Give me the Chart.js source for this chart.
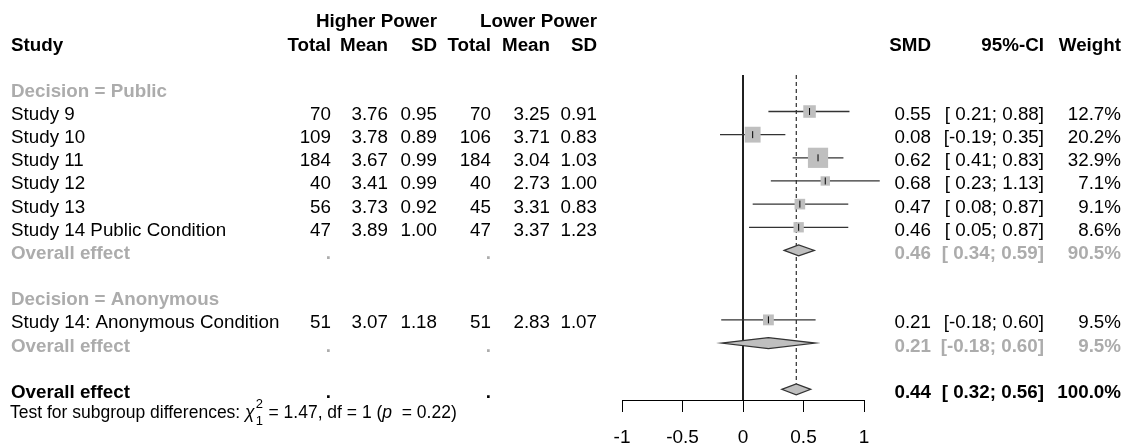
<!DOCTYPE html>
<html>
<head>
<meta charset="utf-8">
<title>Forest plot</title>
<script src="https://cdn.jsdelivr.net/npm/chart.js@4.4.1/dist/chart.umd.min.js"></script>
<style>
  html, body { margin: 0; padding: 0; background: #fff; }
  canvas { display: block; }
</style>
</head>
<body>
<canvas id="forest" width="1128" height="445"></canvas>
<script>
(() => {
  'use strict'

  // study level data
  const studies = ['Study 9', 'Study 10', 'Study 11', 'Study 12', 'Study 13', 'Study 14 Public Condition', 'Study 14: Anonymous Condition']
  const hpTotal = [70, 109, 184, 40, 56, 47, 51]
  const hpMean = [3.76, 3.78, 3.67, 3.41, 3.73, 3.89, 3.07]
  const hpSD = [0.95, 0.89, 0.99, 0.99, 0.92, 1.00, 1.18]
  const lpTotal = [70, 106, 184, 40, 45, 47, 51]
  const lpMean = [3.25, 3.71, 3.04, 2.73, 3.31, 3.37, 2.83]
  const lpSD = [0.91, 0.83, 1.03, 1.00, 0.83, 1.23, 1.07]
  const smd = [0.55, 0.08, 0.62, 0.68, 0.47, 0.46, 0.21]
  const ciLow = [0.21, -0.19, 0.41, 0.23, 0.08, 0.05, -0.18]
  const ciHigh = [0.88, 0.35, 0.83, 1.13, 0.87, 0.87, 0.60]
  const weight = [12.7, 20.2, 32.9, 7.1, 9.1, 8.6, 9.5]

  // subgroups and pooled estimate
  const groups = ['Decision = Public', 'Decision = Anonymous']
  const groupEst = [0.46, 0.21]
  const groupLow = [0.34, -0.18]
  const groupHigh = [0.59, 0.60]
  const groupWeight = [90.5, 9.5]
  const overall = { est: 0.44, low: 0.32, high: 0.56, weight: 100.0 }
  const test = { chi2: '1.47', df: '1', p: '0.22' }

  const xTicks = [-1, -0.5, 0, 0.5, 1]

  // layout: which row every line of the table sits on
  const groupRows = [0, 9]
  const studyRows = [1, 2, 3, 4, 5, 6, 10]
  const subgroupRows = [7, 11]
  const overallRow = 13
  const yTop = -0.577
  const yBottom = 13.46

  const FONT = '"Liberation Sans", Arial, sans-serif'
  const SIZE = 18.8
  const GREY = '#acacac'
  const BOX = '#bfbfbf'
  const col = { study: 11, hpTotal: 331, hpMean: 388, hpSD: 437, lpTotal: 491, lpMean: 550, lpSD: 597, smd: 931, ci: 1044, weight: 1121 }

  const f2 = v => v.toFixed(2)
  const ciText = (lo, hi) => '[' + (lo < 0 ? '' : ' ') + f2(lo) + '; ' + f2(hi) + ']'
  const pct = w => w.toFixed(1) + '%'

  function put (ctx, s, px, py, o = {}) {
    ctx.font = (o.italic ? 'italic ' : '') + (o.bold ? 'bold ' : '') + (o.size || SIZE) + 'px ' + FONT
    ctx.fillStyle = o.color || '#000'
    ctx.textAlign = o.align || 'right'
    ctx.textBaseline = 'alphabetic'
    ctx.fillText(s, px, py)
    return ctx.measureText(s).width
  }

  const forestTable = {
    id: 'forestTable',
    afterDatasetsDraw (chart) {
      const { ctx, scales: { x, y } } = chart
      const base = r => y.getPixelForValue(r) + 8.5

      // diamonds for pooled estimates
      const diamond = (est, lo, hi, r) => {
        const cy = y.getPixelForValue(r)
        const h = 5.5
        ctx.beginPath()
        ctx.moveTo(x.getPixelForValue(lo), cy)
        ctx.lineTo(x.getPixelForValue(est), cy - h)
        ctx.lineTo(x.getPixelForValue(hi), cy)
        ctx.lineTo(x.getPixelForValue(est), cy + h)
        ctx.closePath()
        ctx.fillStyle = BOX
        ctx.fill()
        ctx.strokeStyle = '#333'
        ctx.lineWidth = 1.2
        ctx.stroke()
      }
      ctx.save()
      groupEst.forEach((e, i) => diamond(e, groupLow[i], groupHigh[i], subgroupRows[i]))
      diamond(overall.est, overall.low, overall.high, overallRow)

      // column headers
      put(ctx, 'Higher Power', col.hpSD, base(-3), { bold: true })
      put(ctx, 'Lower Power', col.lpSD, base(-3), { bold: true })
      const hy = base(-2)
      put(ctx, 'Study', col.study, hy, { bold: true, align: 'left' })
      put(ctx, 'Total', col.hpTotal, hy, { bold: true })
      put(ctx, 'Mean', col.hpMean, hy, { bold: true })
      put(ctx, 'SD', col.hpSD, hy, { bold: true })
      put(ctx, 'Total', col.lpTotal, hy, { bold: true })
      put(ctx, 'Mean', col.lpMean, hy, { bold: true })
      put(ctx, 'SD', col.lpSD, hy, { bold: true })
      put(ctx, 'SMD', col.smd, hy, { bold: true })
      put(ctx, '95%-CI', col.ci, hy, { bold: true })
      put(ctx, 'Weight', col.weight, hy, { bold: true })

      // subgroup headings
      groups.forEach((g, i) => put(ctx, g, col.study, base(groupRows[i]), { bold: true, color: GREY, align: 'left' }))

      // study rows
      studies.forEach((s, i) => {
        const by = base(studyRows[i])
        put(ctx, s, col.study, by, { align: 'left' })
        put(ctx, String(hpTotal[i]), col.hpTotal, by)
        put(ctx, f2(hpMean[i]), col.hpMean, by)
        put(ctx, f2(hpSD[i]), col.hpSD, by)
        put(ctx, String(lpTotal[i]), col.lpTotal, by)
        put(ctx, f2(lpMean[i]), col.lpMean, by)
        put(ctx, f2(lpSD[i]), col.lpSD, by)
        put(ctx, f2(smd[i]), col.smd, by)
        put(ctx, ciText(ciLow[i], ciHigh[i]), col.ci, by)
        put(ctx, pct(weight[i]), col.weight, by)
      })

      // subgroup pooled rows
      groupEst.forEach((e, i) => {
        const by = base(subgroupRows[i])
        const o = { bold: true, color: GREY }
        put(ctx, 'Overall effect', col.study, by, { ...o, align: 'left' })
        put(ctx, '.', col.hpTotal, by, o)
        put(ctx, '.', col.lpTotal, by, o)
        put(ctx, f2(e), col.smd, by, o)
        put(ctx, ciText(groupLow[i], groupHigh[i]), col.ci, by, o)
        put(ctx, pct(groupWeight[i]), col.weight, by, o)
      })

      // overall row
      const oy = base(overallRow)
      put(ctx, 'Overall effect', col.study, oy, { bold: true, align: 'left' })
      put(ctx, '.', col.hpTotal, oy, { bold: true })
      put(ctx, '.', col.lpTotal, oy, { bold: true })
      put(ctx, f2(overall.est), col.smd, oy, { bold: true })
      put(ctx, ciText(overall.low, overall.high), col.ci, oy, { bold: true })
      put(ctx, pct(overall.weight), col.weight, oy, { bold: true })

      // test for subgroup differences
      const ty = oy + 20
      const ts = 17.5
      let tx = col.study - 1
      tx += put(ctx, 'Test for subgroup differences: ', tx, ty, { size: ts, align: 'left' })
      const cw = put(ctx, '\u03c7', tx, ty, { size: ts, align: 'left', italic: true })
      put(ctx, '2', tx + cw + 1, ty - 10, { size: 13, align: 'left' })
      put(ctx, test.df, tx + cw + 1, ty + 7, { size: 13, align: 'left' })
      tx += cw + 9
      tx += put(ctx, ' = ' + test.chi2 + ', df = ' + test.df + ' (', tx, ty, { size: ts, align: 'left' })
      tx += put(ctx, 'p', tx, ty, { size: ts, align: 'left', italic: true })
      put(ctx, '  = ' + test.p + ')', tx, ty, { size: ts, align: 'left' })
      ctx.restore()
    }
  }

  const points = smd.map((m, i) => ({ x: m, y: studyRows[i] }))

  const ciLines = smd.map((m, i) => ({
    type: 'line',
    data: [{ x: ciLow[i], y: studyRows[i] }, { x: ciHigh[i], y: studyRows[i] }],
    borderColor: '#333',
    borderWidth: 1.3,
    pointRadius: 0,
    clip: false,
    order: 3
  }))

  const ctx = document.getElementById('forest')
  const forest = new Chart(ctx, {
    type: 'scatter',
    data: {
      datasets: [
        ...ciLines,
        {
          data: points,
          pointStyle: 'rect',
          pointRadius: weight.map(w => 20.2 * Math.sqrt(w / 32.9) / Math.SQRT2),
          backgroundColor: BOX,
          borderWidth: 0,
          order: 2
        },
        {
          data: points,
          pointStyle: 'line',
          rotation: 90,
          pointRadius: 3.5,
          borderColor: '#000',
          borderWidth: 1,
          order: 1
        },
        {
          type: 'line',
          data: [{ x: 0, y: yTop }, { x: 0, y: yBottom }],
          borderColor: '#000',
          borderWidth: 1,
          pointRadius: 0,
          order: 5
        },
        {
          type: 'line',
          data: [{ x: overall.est, y: yTop }, { x: overall.est, y: overallRow - 0.24 }],
          borderColor: '#000',
          borderWidth: 1,
          borderDash: [4, 3],
          pointRadius: 0,
          order: 4
        }
      ]
    },
    options: {
      responsive: false,
      animation: false,
      events: [],
      layout: { padding: { left: 622, right: 264, top: 75, bottom: 0 } },
      scales: {
        x: {
          type: 'linear',
          min: -1,
          max: 1,
          afterBuildTicks: s => { s.ticks = xTicks.map(v => ({ value: v })) },
          afterFit: s => { s.height = 45 },
          ticks: { color: '#000', font: { family: FONT, size: 19 }, padding: 14, callback: v => String(v) },
          grid: { drawOnChartArea: false, drawTicks: true, tickLength: 12, color: '#000', lineWidth: 1 },
          border: { display: true, color: '#000', width: 1 }
        },
        y: {
          type: 'linear',
          reverse: true,
          min: yTop,
          max: yBottom,
          display: false
        }
      },
      plugins: {
        legend: { display: false },
        tooltip: { enabled: false }
      }
    },
    plugins: [forestTable]
  })
})()
</script>
</body>
</html>
